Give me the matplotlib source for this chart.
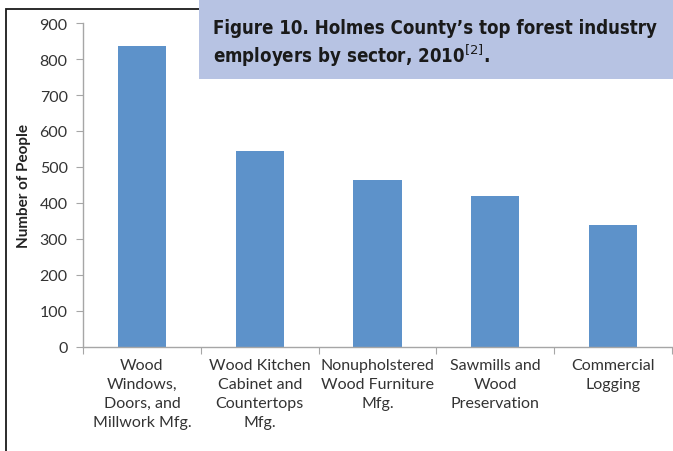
import matplotlib
matplotlib.use("Agg")
import matplotlib.pyplot as plt
from matplotlib.patches import Rectangle
import numpy as np

# employees by sector
sectors = ["Wood\nWindows,\nDoors, and\nMillwork Mfg.",
           "Wood Kitchen\nCabinet and\nCountertops\nMfg.",
           "Nonupholstered\nWood Furniture\nMfg.",
           "Sawmills and\nWood\nPreservation",
           "Commercial\nLogging"]
people = [835, 545, 465, 420, 340]
yticks = [0, 100, 200, 300, 400, 500, 600, 700, 800, 900]

W, H = 673, 452
fig = plt.figure(figsize=(W / 100, H / 100), dpi=100)
fig.patch.set_facecolor("white")

# outer frame of the figure panel
fig.patches.append(Rectangle((5.5 / W, -0.1), 1.2, 1 - 9.5 / H + 0.1,
                             transform=fig.transFigure, fill=False,
                             edgecolor="#1a1a1a", lw=1.3, zorder=0))

ax = fig.add_axes([83 / W, 1 - 348 / H, (672 - 83) / W, 324 / H])
x = np.arange(len(people))
ax.bar(x, people, width=0.41, color="#5D92CA", zorder=2)
ax.set_xlim(-0.5, len(people) - 0.5)
ax.set_ylim(0, 900)
ax.set_yticks(yticks)
ax.set_yticklabels([str(v) for v in yticks])

grey = "#A6A6A6"
for s in ["top", "right"]:
    ax.spines[s].set_visible(False)
for s in ["left", "bottom"]:
    ax.spines[s].set_color(grey)
    ax.spines[s].set_linewidth(1.0)

ax.set_xticks(np.arange(-0.5, len(people), 1.0))
ax.set_xticklabels([])
ax.tick_params(axis="x", length=5, color=grey, direction="out")
ax.tick_params(axis="y", length=5, color=grey, direction="out",
               labelsize=11.5, labelcolor="#333333", pad=6)
for lbl in ax.get_yticklabels():
    lbl.set_family("Lato")

for xi, name in zip(x, sectors):
    ax.text(xi, -30, name, ha="center", va="top", fontsize=11.5,
            family="Lato", color="#333333", linespacing=1.45)

ax.set_ylabel("Number of People", fontsize=11, fontweight="bold",
              family="Lato", color="#222222", labelpad=6)

# title box
fig.patches.append(Rectangle((199 / W, 1 - 80 / H), (W - 199) / W, 80 / H,
                             transform=fig.transFigure, facecolor="#B7C3E3",
                             edgecolor="none", zorder=5))
t1 = fig.text(213 / W, 1 - 29 / H, "Figure 10. Holmes County\u2019s top forest industry",
              fontsize=15.5, fontweight="bold", family="DejaVu Sans",
              fontstretch="condensed", color="#1a1a1a", va="center", ha="left", zorder=6)
t2 = fig.text(213 / W, 1 - 56 / H, "employers by sector, 2010$^{[2]}$.",
              fontsize=15.5, fontweight="bold", family="DejaVu Sans",
              fontstretch="condensed", color="#1a1a1a", va="center", ha="left", zorder=6)

# shrink the title so the first line fits the box like the original
fig.canvas.draw()
w = t1.get_window_extent().width
size = 15.5 * min(1.0, 447 / w)
t1.set_fontsize(size)
t2.set_fontsize(size)

fig.savefig("out.png", dpi=100)
